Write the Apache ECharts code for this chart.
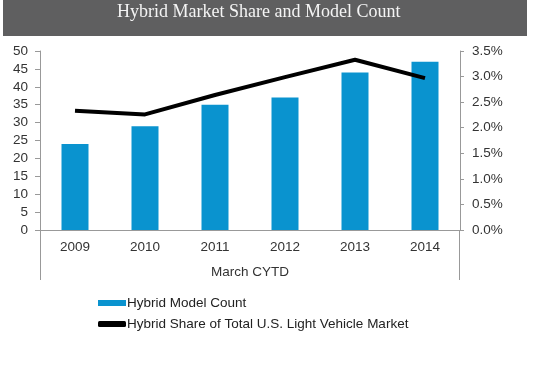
<!DOCTYPE html>
<html><head><meta charset="utf-8">
<script src="https://cdn.jsdelivr.net/npm/echarts@6/dist/echarts.min.js"></script>
<style>html,body{margin:0;padding:0;background:#fff}#c{width:540px;height:380px}</style>
</head><body><div id="c"></div>
<script>
var titleText = 'Hybrid Market Share and Model Count';
var categories = ['2009','2010','2011','2012','2013','2014'];
var modelCount = [24, 29, 35, 37, 44, 47];
var marketShare = [2.33, 2.26, 2.64, 2.99, 3.33, 2.97];
var barName = 'Hybrid Model Count';
var lineName = 'Hybrid Share of Total U.S. Light Vehicle Market';
var xAxisName = 'March CYTD';

var chart = echarts.init(document.getElementById('c'), null, {renderer:'canvas'});
var font = 'Liberation Sans, Arial, sans-serif';
var gl = 40, gr = 80, gt = 51, gb = 150;
chart.setOption({
  animation: false,
  graphic: [
    {type:'rect', shape:{x:3, y:0, width:524, height:36}, style:{fill:'#5f5f60'}},
    {type:'text', left:117, top:3, style:{text:titleText, fill:'#f4f4f4', font:'18px "Liberation Serif", "Times New Roman", serif'}},
    {type:'line', shape:{x1:gl+0.5, y1:380-gb, x2:gl+0.5, y2:280}, style:{stroke:'#999', lineWidth:1}},
    {type:'line', shape:{x1:540-gr-0.5, y1:380-gb, x2:540-gr-0.5, y2:280}, style:{stroke:'#999', lineWidth:1}}
  ],
  grid: {left:gl, right:gr, top:gt, bottom:gb},
  legend: {
    orient:'vertical', left:93, top:291, itemGap:7, itemWidth:28, itemHeight:6,
    textStyle:{fontFamily:font, fontSize:13.5, color:'#222', padding:[0,0,0,-4]},
    data:[
      {name:barName, icon:'rect'},
      {name:lineName, icon:'roundRect'}
    ]
  },
  xAxis: {
    type:'category', data:categories,
    name:xAxisName, nameLocation:'middle', nameGap:35,
    nameTextStyle:{fontFamily:font, fontSize:13.5, color:'#333'},
    axisLine:{lineStyle:{color:'#999', width:1}},
    axisTick:{length:25, lineStyle:{color:'#999'}},
    axisLabel:{fontFamily:font, fontSize:13.5, color:'#333', margin:10}
  },
  yAxis: [
    {type:'value', min:0, max:50, interval:5,
     axisLine:{show:true, lineStyle:{color:'#999'}},
     axisTick:{show:true, length:5, lineStyle:{color:'#999'}},
     splitLine:{show:false},
     axisLabel:{fontFamily:font, fontSize:13.5, color:'#333', margin:12}},
    {type:'value', min:0, max:3.5, interval:0.5, position:'right',
     axisLine:{show:true, lineStyle:{color:'#999'}},
     axisTick:{show:true, length:4, lineStyle:{color:'#999'}},
     splitLine:{show:false},
     axisLabel:{fontFamily:font, fontSize:13.5, color:'#333', margin:12,
       formatter:function(v){return v.toFixed(1)+'%';}}}
  ],
  series: [
    {name:barName, type:'bar', data:modelCount, barWidth:27, yAxisIndex:0,
     itemStyle:{color:'#0a93cf'}},
    {name:lineName, type:'line', data:marketShare, yAxisIndex:1,
     symbol:'none', lineStyle:{color:'#000', width:4}, itemStyle:{color:'#000'}}
  ]
});
</script></body></html>
